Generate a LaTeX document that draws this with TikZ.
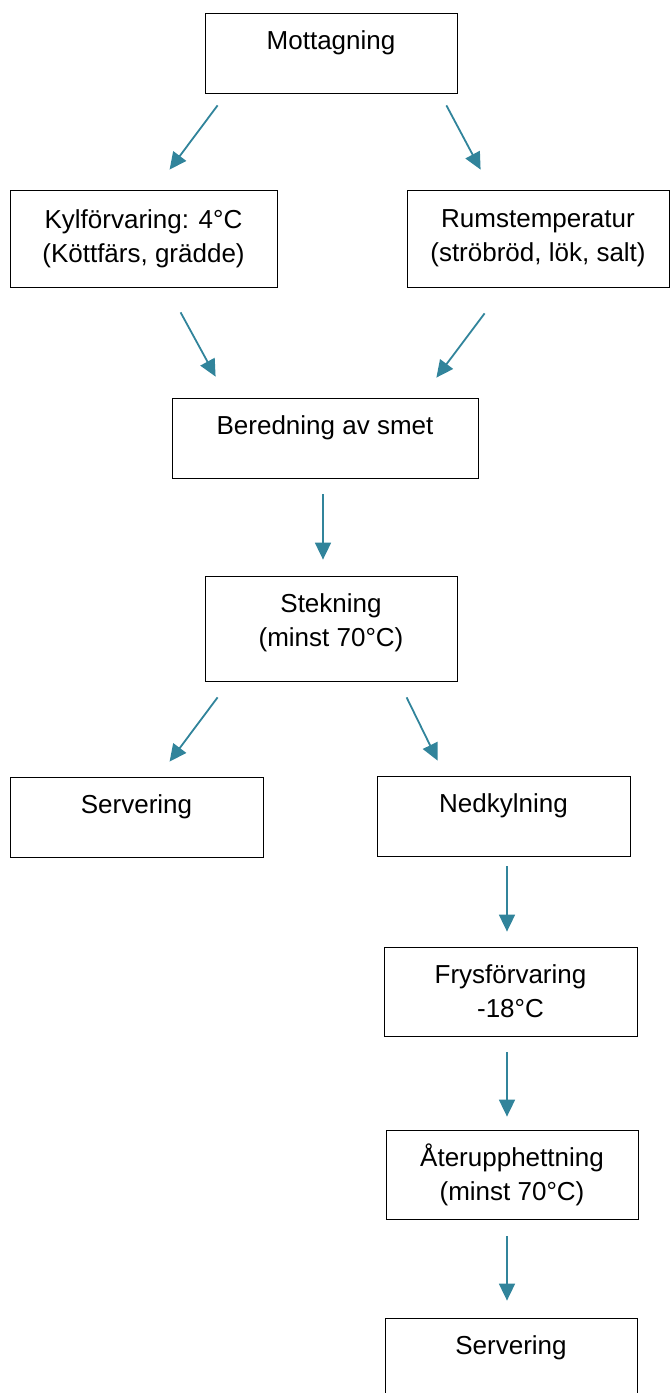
\documentclass[tikz,border=0pt]{standalone}
\usepackage{fontspec}
\setmainfont{Liberation Sans}
\usetikzlibrary{arrows.meta}

\definecolor{flowteal}{RGB}{49,132,155}

\tikzset{
	stepbox/.style = {draw, line width = 0.8pt, rectangle, align = center, inner sep = 0pt, font = \fontsize{26}{34}\selectfont},
	oneline/.style = {text depth = 25pt},
	flow/.style = {-{Triangle[length = 17pt, width = 16pt]}, draw = flowteal, fill = flowteal, line width = 1.8pt}
}

\begin{document}
\begin{tikzpicture}[x = 1pt, y = 1pt]

% Canvas

\useasboundingbox (0, 0) rectangle (670, -1393);

% Boxes

\node [stepbox, oneline, minimum width = 252, minimum height = 80] (mott) at (331, -53) {Mottagning};
\node [stepbox, minimum width = 267, minimum height = 97] (kyl) at (143.5, -238.5) {Kylförvaring: 4°C\\(Köttfärs, grädde)};
\node [stepbox, minimum width = 262, minimum height = 97] (rum) at (538, -238.5) {Rumstemperatur\\(ströbröd, lök, salt)};
\node [stepbox, oneline, minimum width = 306, minimum height = 80] (bered) at (325, -438) {Beredning av smet};
\node [stepbox, text depth = 17.5pt, minimum width = 252, minimum height = 105] (stek) at (331, -628.5) {Stekning\\(minst 70°C)};
\node [stepbox, oneline, minimum width = 253, minimum height = 80] (servA) at (136.5, -817) {Servering};
\node [stepbox, oneline, minimum width = 253, minimum height = 80] (nedk) at (503.5, -816) {Nedkylning};
\node [stepbox, minimum width = 253, minimum height = 89] (frys) at (510.5, -991.5) {Frysförvaring\\-18°C};
\node [stepbox, minimum width = 252, minimum height = 89] (ater) at (512, -1174.5) {Återupphettning\\(minst 70°C)};
\node [stepbox, oneline, minimum width = 252, minimum height = 80] (servB) at (511, -1358) {Servering};

% Arrows

\draw [flow] ([shift = {(13, -12)}] mott.south west) -- ([shift = {(160, 20)}] kyl.north west);
\draw [flow] ([shift = {(-11, -12)}] mott.south east) -- ([shift = {(74, 20)}] rum.north west);
\draw [flow] ([shift = {(171, -25)}] kyl.south west) -- ([shift = {(44, 21)}] bered.north west);
\draw [flow] ([shift = {(78, -26)}] rum.south west) -- ([shift = {(-42, 20)}] bered.north east);
\draw [flow, shorten < = 16, shorten > = 16] ([xshift = -2] bered.south) -- ([xshift = -2] bered.south |- stek.north);
\draw [flow] ([shift = {(13, -16)}] stek.south west) -- ([shift = {(160, 15)}] servA.north west);
\draw [flow] ([shift = {(202, -16)}] stek.south west) -- ([shift = {(61, 15)}] nedk.north west);
\draw [flow, shorten < = 10, shorten > = 15] ([xshift = 3.5] nedk.south) -- ([xshift = 3.5] nedk.south |- frys.north);
\draw [flow, shorten < = 16, shorten > = 13] ([xshift = -3.5] frys.south) -- ([xshift = -3.5] frys.south |- ater.north);
\draw [flow, shorten < = 17, shorten > = 17] ([xshift = -5] ater.south) -- ([xshift = -5] ater.south |- servB.north);

\end{tikzpicture}
\end{document}
